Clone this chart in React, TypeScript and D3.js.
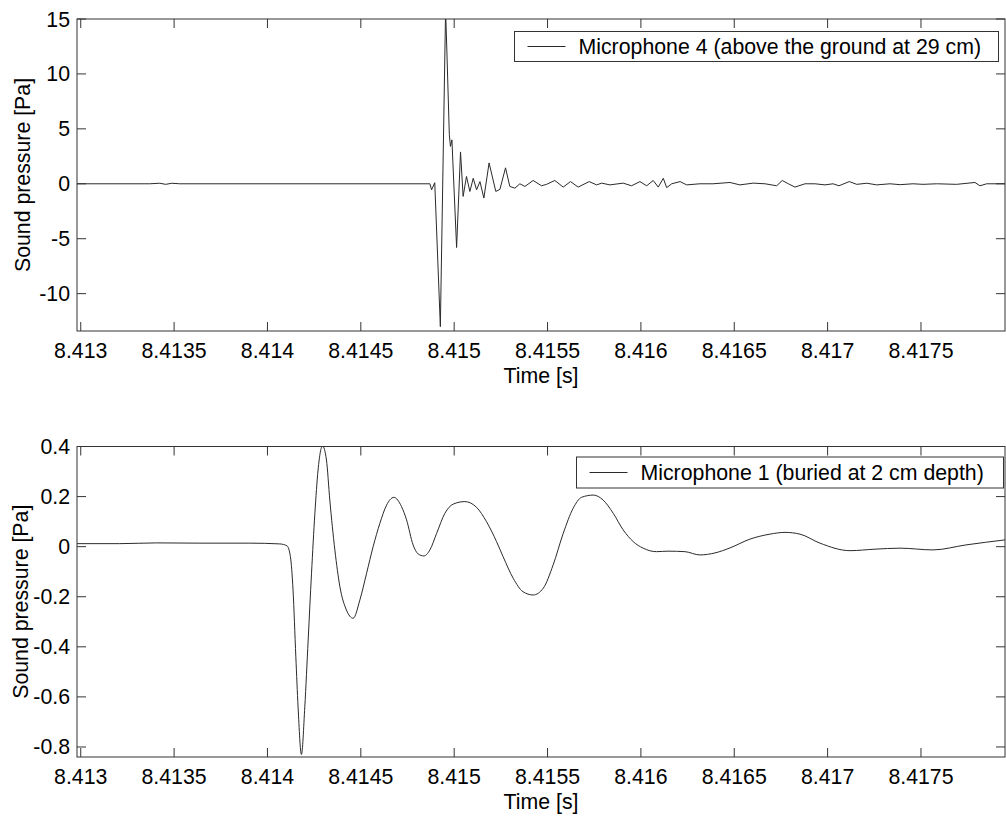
import React from 'react'
import * as d3 from 'd3'

// microphone 4, above ground (time [s], pressure [Pa])
const mic4Time = [8.412979, 8.41337, 8.413423, 8.413455, 8.413488, 8.41353, 8.41487, 8.414879, 8.414896, 8.414926, 8.414954, 8.414961, 8.414974, 8.41498, 8.414988, 8.414993, 8.415013, 8.415034, 8.415048, 8.415066, 8.415084, 8.415102, 8.41512, 8.415138, 8.415159, 8.415187, 8.415223, 8.415245, 8.415275, 8.415298, 8.415325, 8.415352, 8.415379, 8.415423, 8.415468, 8.415495, 8.415539, 8.415584, 8.415623, 8.415664, 8.415723, 8.415763, 8.41579, 8.415834, 8.415905, 8.41595, 8.415995, 8.416031, 8.416066, 8.416093, 8.41612, 8.416138, 8.416165, 8.41621, 8.416245, 8.416316, 8.416386, 8.416477, 8.41653, 8.416602, 8.416665, 8.416727, 8.416757, 8.41679, 8.416825, 8.416879, 8.416932, 8.416986, 8.417029, 8.417061, 8.417116, 8.417156, 8.41721, 8.417263, 8.417334, 8.417388, 8.417457, 8.417511, 8.417584, 8.417691, 8.417789, 8.417816, 8.417852, 8.41795];
const mic4Pa = [0, 0, 0.05, -0.05, 0.05, 0, 0, -0.55, 0.1, -13, 15.8, 12, 4.5, 3.4, 4.0, 2.0, -5.8, 2.9, -1.15, 0.67, -0.7, 0.5, -0.55, 0.2, -1.3, 1.9, -0.7, -0.5, 1.45, -0.24, -0.4, 0, -0.24, 0.3, -0.18, -0.05, 0.3, -0.3, 0.2, -0.3, 0.2, -0.1, 0.06, -0.1, 0.06, -0.18, 0.2, -0.18, 0.3, -0.3, 0.5, -0.35, 0, 0.2, -0.1, 0, 0, 0.12, -0.1, 0.06, 0, -0.18, 0.3, 0, -0.3, 0, 0, -0.1, 0, -0.18, 0.2, -0.05, 0.05, -0.1, 0, -0.08, 0, -0.05, 0, -0.05, 0.12, -0.18, 0, 0];

// microphone 1, buried at 2 cm
const mic1Time = [8.412979, 8.413209, 8.413407, 8.413638, 8.413905, 8.414066, 8.414105, 8.414123, 8.414137, 8.414152, 8.414164, 8.414182, 8.4142, 8.414218, 8.414236, 8.414254, 8.414271, 8.414295, 8.414316, 8.414334, 8.414361, 8.414388, 8.414423, 8.414459, 8.414495, 8.414531, 8.414566, 8.414602, 8.414638, 8.414677, 8.414718, 8.414745, 8.41478, 8.414807, 8.414838, 8.41487, 8.414906, 8.41495, 8.414995, 8.415057, 8.41512, 8.415173, 8.415227, 8.415262, 8.415316, 8.415369, 8.415423, 8.415477, 8.41553, 8.415584, 8.415637, 8.415682, 8.415745, 8.415798, 8.415852, 8.415905, 8.415959, 8.416012, 8.416084, 8.416145, 8.416236, 8.416316, 8.416397, 8.416477, 8.416584, 8.416691, 8.416772, 8.416852, 8.416959, 8.41712, 8.417254, 8.417388, 8.417564, 8.417741, 8.41795];
const mic1Pa = [0.012, 0.012, 0.015, 0.014, 0.014, 0.011, 0.003, -0.04, -0.173, -0.44, -0.64, -0.83, -0.64, -0.373, -0.106, 0.133, 0.306, 0.402, 0.346, 0.186, -0.013, -0.16, -0.253, -0.286, -0.213, -0.106, 0, 0.093, 0.166, 0.197, 0.16, 0.107, 0.007, -0.029, -0.037, -0.013, 0.053, 0.133, 0.17, 0.18, 0.157, 0.1, 0.02, -0.04, -0.126, -0.18, -0.193, -0.166, -0.073, 0.053, 0.153, 0.197, 0.206, 0.186, 0.133, 0.067, 0.02, -0.006, -0.02, -0.018, -0.02, -0.033, -0.025, -0.005, 0.03, 0.05, 0.057, 0.05, 0.014, -0.016, -0.01, -0.006, -0.013, 0.007, 0.027];

const timeTicks = [8.413, 8.4135, 8.414, 8.4145, 8.415, 8.4155, 8.416, 8.4165, 8.417, 8.4175];
const topTicks = [-10, -5, 0, 5, 10, 15];
const bottomTicks = [-0.8, -0.6, -0.4, -0.2, 0, 0.2, 0.4];

const FONT = "'Liberation Sans', Arial, Helvetica, sans-serif";
const FS = 21.3;
const AX = '#333';
const LINE = '#2a2a2a';

type PanelProps = {
  id: string; top: number; bottom: number; ydom: [number, number]; yticks: number[];
  time: number[]; values: number[]; label: string; smooth: boolean;
  leg: { x: number; y: number; w: number; h: number };
  ylabelX: number;
};

function Panel({ id, top, bottom, ydom, yticks, time, values, label, smooth, leg, ylabelX }: PanelProps) {
  const left = 77, right = 1005;
  const x = d3.scaleLinear().domain([8.41298, 8.41795]).range([left, right]);
  const y = d3.scaleLinear().domain(ydom).range([bottom, top]);
  const pts = time.map((t, i) => [t, values[i]] as [number, number]);
  const path = d3.line<[number, number]>().x(d => x(d[0])).y(d => y(d[1]))
    .curve(smooth ? d3.curveMonotoneX : d3.curveLinear)(pts) || '';
  const tl = 9;
  const midLeg = leg.y + leg.h / 2;
  return (
    <g>
      <defs>
        <clipPath id={id}><rect x={left} y={top} width={right - left} height={bottom - top} /></clipPath>
      </defs>
      <path d={path} fill="none" stroke={LINE} strokeWidth={1} clipPath={`url(#${id})`} />
      <rect x={left} y={top} width={right - left} height={bottom - top} fill="none" stroke={AX} strokeWidth={1} />
      {timeTicks.map(t => (
        <g key={t}>
          <line x1={x(t)} x2={x(t)} y1={bottom} y2={bottom - tl} stroke={AX} />
          <line x1={x(t)} x2={x(t)} y1={top} y2={top + tl} stroke={AX} />
          <text x={x(t)} y={bottom + 26.5} textAnchor="middle" fontFamily={FONT} fontSize={FS}>{String(+t.toFixed(4))}</text>
        </g>
      ))}
      {yticks.map(v => (
        <g key={v}>
          <line x1={left} x2={left + tl} y1={y(v)} y2={y(v)} stroke={AX} />
          <line x1={right} x2={right - tl} y1={y(v)} y2={y(v)} stroke={AX} />
          <text x={70} y={y(v) + 7.5} textAnchor="end" fontFamily={FONT} fontSize={FS}>{String(v)}</text>
        </g>
      ))}
      <text x={(left + right) / 2} y={bottom + 52} textAnchor="middle" fontFamily={FONT} fontSize={FS}>Time [s]</text>
      <text transform={`translate(${ylabelX},${(top + bottom) / 2}) rotate(-90)`} textAnchor="middle" fontFamily={FONT} fontSize={FS}>Sound pressure [Pa]</text>
      <rect x={leg.x} y={leg.y} width={leg.w} height={leg.h} fill="#fff" stroke={AX} strokeWidth={1} />
      <line x1={leg.x + 13} x2={leg.x + 51} y1={midLeg} y2={midLeg} stroke={LINE} />
      <text x={leg.x + 64} y={midLeg + 7.5} fontFamily={FONT} fontSize={FS}>{label}</text>
    </g>
  );
}

export default function App() {
  return (
    <svg width={1006} height={817} style={{ position: 'absolute', left: 0, top: 0, background: '#fff' }}>
      <rect width={1006} height={817} fill="#fff" />
      <Panel id="c4" top={19} bottom={331} ydom={[-13.4, 15]} yticks={topTicks}
        time={mic4Time} values={mic4Pa} label="Microphone 4 (above the ground at 29 cm)" smooth={false}
        leg={{ x: 514.5, y: 31.5, w: 484, h: 30 }} ylabelX={30} />
      <Panel id="c1" top={446.5} bottom={757} ydom={[-0.84, 0.4]} yticks={bottomTicks}
        time={mic1Time} values={mic1Pa} label="Microphone 1 (buried at 2 cm depth)" smooth={true}
        leg={{ x: 576.5, y: 457, w: 427, h: 31 }} ylabelX={28} />
    </svg>
  );
}
